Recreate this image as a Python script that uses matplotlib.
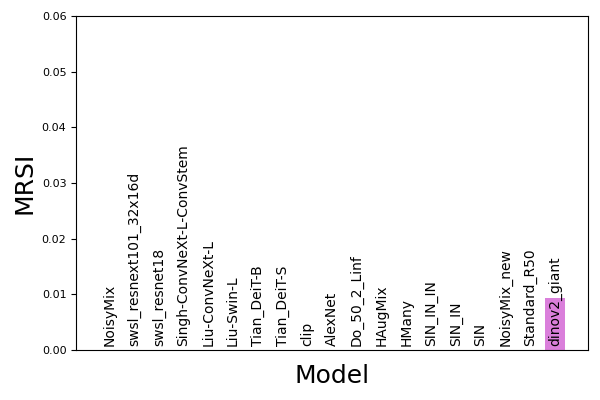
import matplotlib
matplotlib.use("Agg")
import matplotlib.pyplot as plt

models = ["NoisyMix", "swsl_resnext101_32x16d", "swsl_resnet18", "Singh-ConvNeXt-L-ConvStem",
          "Liu-ConvNeXt-L", "Liu-Swin-L", "Tian_DeiT-B", "Tian_DeiT-S", "clip", "AlexNet",
          "Do_50_2_Linf", "HAugMix", "HMany", "SIN_IN_IN", "SIN_IN", "SIN", "NoisyMix_new",
          "Standard_R50", "dinov2_giant"]
mrsi = [0, 0, 0, 0, 0, 0, 0, 0, 0, 0, 0, 0, 0, 0, 0, 0, 0, 0, 0.0094]

fig, ax = plt.subplots(figsize=(6, 4), dpi=100)
x = list(range(len(models)))
ax.bar(x, mrsi, width=0.8, color="#DA7FDB")
for xi, name in zip(x, models):
    ax.text(xi, 0.0007, name, rotation=90, ha="center", va="bottom", fontsize=10)
ax.set_ylim(0, 0.06)
ax.set_xticks([])
ax.tick_params(axis="y", labelsize=8)
ax.set_ylabel("MRSI", fontsize=18)
ax.set_xlabel("Model", fontsize=18, labelpad=10)
fig.subplots_adjust(left=0.127, right=0.98, top=0.96, bottom=0.125)
fig.savefig("out.png")
